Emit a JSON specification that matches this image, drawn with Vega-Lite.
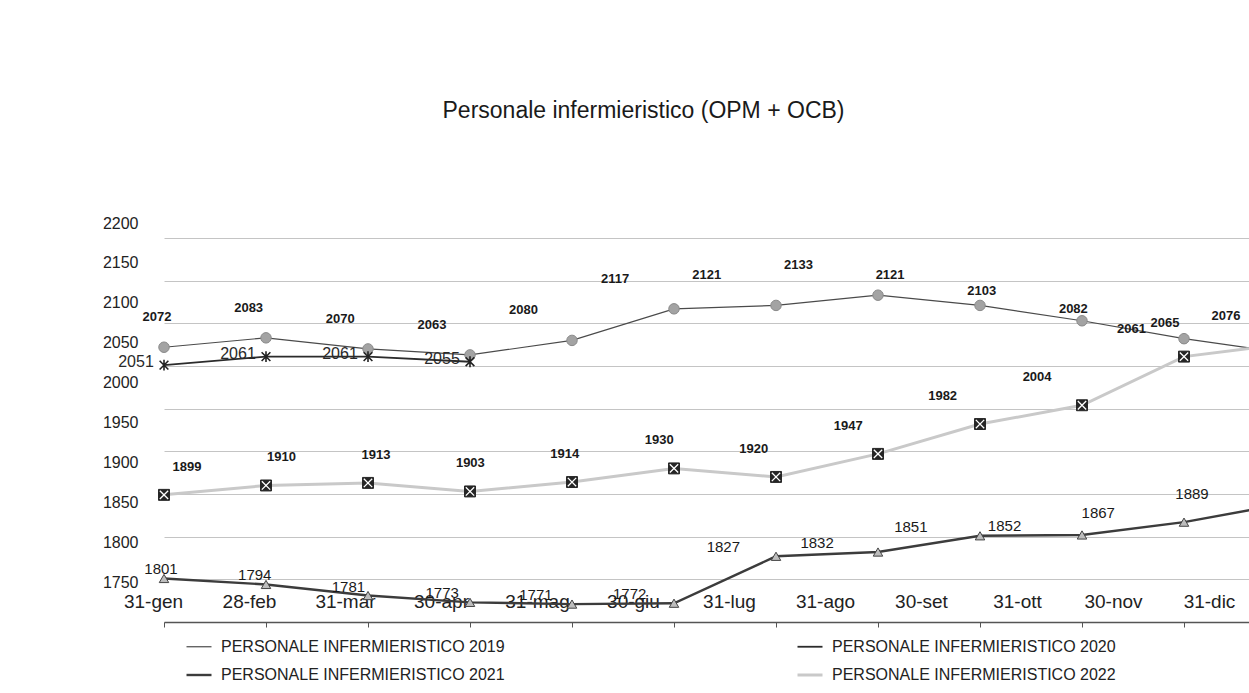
{
  "$schema": "https://vega.github.io/schema/vega-lite/v6.json",
  "width": 1085,
  "height": 384,
  "autosize": {"type": "none"},
  "padding": {"left": 164, "top": 238, "right": 0, "bottom": 71},
  "background": "white",
  "config": {"view": {"stroke": null}, "font": "Liberation Sans"},
  "title": {"text": "Personale infermieristico (OPM + OCB)", "fontSize": 23, "fontWeight": "normal", "font": "Liberation Sans", "color": "#1a1a1a", "anchor": "middle", "dx": -63, "offset": 92},
  "data": {"values": [
    {"month": "31-gen", "series": "PERSONALE INFERMIERISTICO 2019", "value": 2072},
    {"month": "28-feb", "series": "PERSONALE INFERMIERISTICO 2019", "value": 2083},
    {"month": "31-mar", "series": "PERSONALE INFERMIERISTICO 2019", "value": 2070},
    {"month": "30-apr", "series": "PERSONALE INFERMIERISTICO 2019", "value": 2063},
    {"month": "31-mag", "series": "PERSONALE INFERMIERISTICO 2019", "value": 2080},
    {"month": "30-giu", "series": "PERSONALE INFERMIERISTICO 2019", "value": 2117},
    {"month": "31-lug", "series": "PERSONALE INFERMIERISTICO 2019", "value": 2121},
    {"month": "31-ago", "series": "PERSONALE INFERMIERISTICO 2019", "value": 2133},
    {"month": "30-set", "series": "PERSONALE INFERMIERISTICO 2019", "value": 2121},
    {"month": "31-ott", "series": "PERSONALE INFERMIERISTICO 2019", "value": 2103},
    {"month": "30-nov", "series": "PERSONALE INFERMIERISTICO 2019", "value": 2082},
    {"month": "31-dic", "series": "PERSONALE INFERMIERISTICO 2019", "value": 2065},
    {"month": "31-gen", "series": "PERSONALE INFERMIERISTICO 2020", "value": 2051},
    {"month": "28-feb", "series": "PERSONALE INFERMIERISTICO 2020", "value": 2061},
    {"month": "31-mar", "series": "PERSONALE INFERMIERISTICO 2020", "value": 2061},
    {"month": "30-apr", "series": "PERSONALE INFERMIERISTICO 2020", "value": 2055},
    {"month": "31-gen", "series": "PERSONALE INFERMIERISTICO 2021", "value": 1801},
    {"month": "28-feb", "series": "PERSONALE INFERMIERISTICO 2021", "value": 1794},
    {"month": "31-mar", "series": "PERSONALE INFERMIERISTICO 2021", "value": 1781},
    {"month": "30-apr", "series": "PERSONALE INFERMIERISTICO 2021", "value": 1773},
    {"month": "31-mag", "series": "PERSONALE INFERMIERISTICO 2021", "value": 1771},
    {"month": "30-giu", "series": "PERSONALE INFERMIERISTICO 2021", "value": 1772},
    {"month": "31-lug", "series": "PERSONALE INFERMIERISTICO 2021", "value": 1827},
    {"month": "31-ago", "series": "PERSONALE INFERMIERISTICO 2021", "value": 1832},
    {"month": "30-set", "series": "PERSONALE INFERMIERISTICO 2021", "value": 1851},
    {"month": "31-ott", "series": "PERSONALE INFERMIERISTICO 2021", "value": 1852},
    {"month": "30-nov", "series": "PERSONALE INFERMIERISTICO 2021", "value": 1867},
    {"month": "31-dic", "series": "PERSONALE INFERMIERISTICO 2021", "value": 1889},
    {"month": "31-gen", "series": "PERSONALE INFERMIERISTICO 2022", "value": 1899},
    {"month": "28-feb", "series": "PERSONALE INFERMIERISTICO 2022", "value": 1910},
    {"month": "31-mar", "series": "PERSONALE INFERMIERISTICO 2022", "value": 1913},
    {"month": "30-apr", "series": "PERSONALE INFERMIERISTICO 2022", "value": 1903},
    {"month": "31-mag", "series": "PERSONALE INFERMIERISTICO 2022", "value": 1914},
    {"month": "30-giu", "series": "PERSONALE INFERMIERISTICO 2022", "value": 1930},
    {"month": "31-lug", "series": "PERSONALE INFERMIERISTICO 2022", "value": 1920},
    {"month": "31-ago", "series": "PERSONALE INFERMIERISTICO 2022", "value": 1947},
    {"month": "30-set", "series": "PERSONALE INFERMIERISTICO 2022", "value": 1982},
    {"month": "31-ott", "series": "PERSONALE INFERMIERISTICO 2022", "value": 2004},
    {"month": "30-nov", "series": "PERSONALE INFERMIERISTICO 2022", "value": 2061},
    {"month": "31-dic", "series": "PERSONALE INFERMIERISTICO 2022", "value": 2076}
  ]},
  "encoding": {
    "y": {"field": "value", "type": "quantitative",
      "scale": {"domain": [1750, 2200], "nice": false, "zero": false},
      "axis": {"title": null, "values": [1750, 1800, 1850, 1900, 1950, 2000, 2050, 2100, 2150, 2200], "format": "d",
        "grid": true, "gridColor": "#c4c4c4", "gridWidth": 1, "domain": false, "ticks": false,
        "labelPadding": 26, "labelFontSize": 16, "labelColor": "#222", "labelFont": "Liberation Sans",
        "labelOffset": {"expr": "-40 + 25*datum.index"}}}
  },
  "layer": [
    {
      "encoding": {
        "x": {"field": "month", "type": "ordinal",
          "scale": {"type": "point", "padding": 0, "range": [0, 1122],
            "domain": ["31-gen","28-feb","31-mar","30-apr","31-mag","30-giu","31-lug","31-ago","30-set","31-ott","30-nov","31-dic"]},
          "axis": {"title": null, "labelFontSize": 19, "labelColor": "#222", "labelFont": "Liberation Sans",
            "labelPadding": -26, "labelBaseline": "middle", "labelAngle": 0,
            "labelOffset": {"expr": "-11 - 66*datum.index"},
            "labelOverlap": false, "labelBound": false, "labelFlush": false,
            "ticks": true, "tickSize": 5, "tickColor": "#555", "domainColor": "#555", "domainWidth": 1.5, "grid": false}}
      },
      "layer": [
        {
          "mark": {"type": "line"},
          "encoding": {
            "color": {"field": "series", "type": "nominal",
              "scale": {"domain": ["PERSONALE INFERMIERISTICO 2019","PERSONALE INFERMIERISTICO 2020","PERSONALE INFERMIERISTICO 2021","PERSONALE INFERMIERISTICO 2022"],
                "range": ["#4a4a4a", "#2b2b2b", "#3c3c3c", "#c9c9c9"]},
              "legend": {"title": null, "orient": "none", "legendX": 21, "legendY": 395, "columns": 2, "direction": "horizontal",
                "symbolType": "stroke", "symbolSize": 625, "symbolStrokeWidth": 3, "labelFontSize": 16, "labelFont": "Liberation Sans",
                "labelColor": "#222", "labelOffset": 8, "columnPadding": 286, "rowPadding": 6, "labelLimit": 500, "padding": 0}},
            "strokeWidth": {"field": "series", "type": "ordinal",
              "scale": {"domain": ["PERSONALE INFERMIERISTICO 2019","PERSONALE INFERMIERISTICO 2020","PERSONALE INFERMIERISTICO 2021","PERSONALE INFERMIERISTICO 2022"],
                "range": [1.2, 3, 3.2, 3]},
              "legend": null}
          }
        },
        {
          "transform": [{"filter": "datum.series === 'PERSONALE INFERMIERISTICO 2019'"}],
          "mark": {"type": "point", "shape": "circle", "size": 110, "filled": true, "fill": "#a3a3a3", "stroke": "#8a8a8a", "strokeWidth": 1, "opacity": 1}
        },
        {
          "transform": [{"filter": "datum.series === 'PERSONALE INFERMIERISTICO 2020'"}],
          "mark": {"type": "point", "shape": "M-0.8,-0.8L0.8,0.8M0.8,-0.8L-0.8,0.8M0,-1L0,1", "size": 120, "filled": false, "stroke": "#222", "strokeWidth": 1.6, "opacity": 1}
        },
        {
          "transform": [{"filter": "datum.series === 'PERSONALE INFERMIERISTICO 2021'"}],
          "mark": {"type": "point", "shape": "triangle-up", "size": 90, "filled": true, "fill": "#bdbdbd", "stroke": "#444", "strokeWidth": 1, "opacity": 1}
        },
        {
          "transform": [{"filter": "datum.series === 'PERSONALE INFERMIERISTICO 2022'"}],
          "mark": {"type": "point", "shape": "square", "size": 120, "filled": true, "fill": "#262626", "stroke": "#262626", "strokeWidth": 1, "opacity": 1}
        },
        {
          "transform": [{"filter": "datum.series === 'PERSONALE INFERMIERISTICO 2022'"}],
          "mark": {"type": "point", "shape": "M-1,-1L1,1M1,-1L-1,1", "size": 70, "filled": false, "stroke": "white", "strokeWidth": 1.3, "opacity": 1}
        }
      ]
    },
    {
      "transform": [{"filter": "datum.series === 'PERSONALE INFERMIERISTICO 2019'"}],
      "mark": {"type": "text", "fontSize": 13, "fontWeight": "bold", "font": "Liberation Sans", "color": "#1a1a1a", "dy": -30, "align": "center", "baseline": "middle"},
      "encoding": {
        "x": {"field": "month", "type": "ordinal", "axis": null,
          "scale": {"type": "point", "padding": 0, "range": [-7, 1001],
            "domain": ["31-gen","28-feb","31-mar","30-apr","31-mag","30-giu","31-lug","31-ago","30-set","31-ott","30-nov","31-dic"]}},
        "text": {"field": "value", "type": "quantitative"}
      }
    },
    {
      "transform": [{"filter": "datum.series === 'PERSONALE INFERMIERISTICO 2020'"}],
      "mark": {"type": "text", "fontSize": 16, "font": "Liberation Sans", "color": "#2a2a2a", "dx": -28, "dy": -3, "align": "center", "baseline": "middle"},
      "encoding": {
        "x": {"field": "month", "type": "ordinal", "axis": null,
          "scale": {"type": "point", "padding": 0, "range": [0, 1122],
            "domain": ["31-gen","28-feb","31-mar","30-apr","31-mag","30-giu","31-lug","31-ago","30-set","31-ott","30-nov","31-dic"]}},
        "text": {"field": "value", "type": "quantitative"}
      }
    },
    {
      "transform": [{"filter": "datum.series === 'PERSONALE INFERMIERISTICO 2021'"}],
      "mark": {"type": "text", "fontSize": 15, "font": "Liberation Sans", "color": "#1a1a1a", "dy": -9, "align": "center", "baseline": "middle"},
      "encoding": {
        "x": {"field": "month", "type": "ordinal", "axis": null,
          "scale": {"type": "point", "padding": 0, "range": [-3, 1028],
            "domain": ["31-gen","28-feb","31-mar","30-apr","31-mag","30-giu","31-lug","31-ago","30-set","31-ott","30-nov","31-dic"]}},
        "text": {"field": "value", "type": "quantitative"}
      }
    },
    {
      "transform": [{"filter": "datum.series === 'PERSONALE INFERMIERISTICO 2022'"}],
      "mark": {"type": "text", "fontSize": 13, "fontWeight": "bold", "font": "Liberation Sans", "color": "#1a1a1a", "dy": -28, "align": "center", "baseline": "middle"},
      "encoding": {
        "x": {"field": "month", "type": "ordinal", "axis": null,
          "scale": {"type": "point", "padding": 0, "range": [23, 1062],
            "domain": ["31-gen","28-feb","31-mar","30-apr","31-mag","30-giu","31-lug","31-ago","30-set","31-ott","30-nov","31-dic"]}},
        "text": {"field": "value", "type": "quantitative"}
      }
    }
  ],
  "resolve": {"scale": {"x": "independent"}}
}
